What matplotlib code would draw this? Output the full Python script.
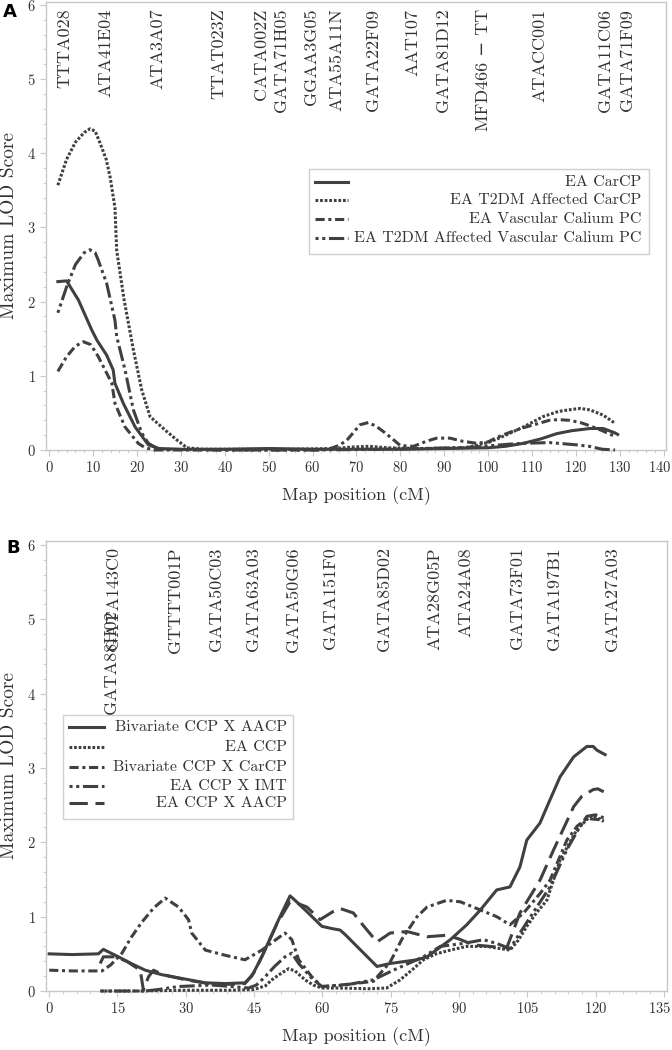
import matplotlib
matplotlib.use("Agg")
import matplotlib.pyplot as plt
from matplotlib.lines import Line2D
from matplotlib.patches import Rectangle
from matplotlib.ticker import MultipleLocator
from matplotlib.transforms import ScaledTranslation

plt.rcParams['font.family'] = ['cmr10', 'DejaVu Serif']
plt.rcParams['axes.formatter.use_mathtext'] = True
plt.rcParams['mathtext.fontset'] = 'cm'

# ---------------- panel A data ----------------
a_markers = ["TTTA028", "ATA41E04", "ATA3A07", "TTAT023Z", "CATA002Z", "GATA71H05",
             "GGAA3G05", "ATA55A11N", "GATA22F09", "AAT107", "GATA81D12",
             "MFD466 \u2212 TT", "ATACC001", "GATA11C06", "GATA71F09"]
a_marker_pos = [3.6, 12.8, 24.8, 38.7, 48.3, 52.8, 59.7, 65.6, 73.8, 82.9, 89.7,
                98.9, 111.8, 126.7, 131.7]

a_carcp_x = [2, 4, 6.7, 9.7, 10.9, 13.1, 14.6, 15.0, 16.9, 19.6, 22.6, 25, 30, 40, 50,
             60, 70, 80, 90, 100, 104, 108, 112, 115.6, 119, 123.2, 126.2, 128.9, 129.5]
a_carcp_y = [2.27, 2.28, 2.02, 1.62, 1.48, 1.28, 1.08, 0.90, 0.63, 0.31, 0.07, 0.02, 0.01,
             0.01, 0.02, 0.01, 0.01, 0.01, 0.02, 0.03, 0.05, 0.09, 0.15, 0.22, 0.26, 0.29,
             0.29, 0.23, 0.21]

a_t2dm_x = [2, 4, 6, 8, 9.3, 10.5, 11.6, 13, 13.9, 15.0, 15.4, 17.1, 19.2, 21.1, 23.0,
            26.8, 29, 31.4, 35, 45, 55, 65, 69, 73, 77, 85, 95, 100.5, 104, 108, 112.5,
            116, 119.4, 121, 123.2, 126.2, 128.9]
a_t2dm_y = [3.57, 3.92, 4.15, 4.28, 4.33, 4.30, 4.14, 3.92, 3.68, 3.27, 2.69, 2.02, 1.35,
            0.81, 0.45, 0.25, 0.14, 0.03, 0.01, 0.01, 0.01, 0.02, 0.04, 0.05, 0.03, 0.02,
            0.03, 0.11, 0.20, 0.31, 0.45, 0.52, 0.55, 0.56, 0.54, 0.47, 0.36]

a_vasc_x = [2, 4, 6, 7.8, 9.5, 11.2, 13, 14.3, 15.0, 17.3, 20.3, 21.9, 24, 35, 50, 62, 64,
            66, 67.8, 70.8, 72.7, 74.5, 76.1, 78, 80, 83, 86, 88.3, 91.3, 94, 97.4, 100,
            102, 105, 108, 111, 113.9, 116, 118.5, 121, 123, 126, 129]
a_vasc_y = [1.06, 1.26, 1.40, 1.46, 1.42, 1.26, 1.05, 0.90, 0.63, 0.31, 0.09, 0.03, 0.0,
            0.0, 0.0, 0.0, 0.02, 0.06, 0.13, 0.34, 0.37, 0.32, 0.25, 0.16, 0.06, 0.05,
            0.12, 0.16, 0.16, 0.12, 0.09, 0.11, 0.17, 0.24, 0.30, 0.35, 0.40, 0.41, 0.40,
            0.37, 0.33, 0.26, 0.18]

a_t2dm_vasc_x = [2, 4, 6, 8, 9.3, 10.5, 11.2, 13.1, 15.0, 15.4, 17.3, 19.2, 21.1, 22.6,
                 25, 40, 60, 75, 85, 92, 97, 101, 105, 108, 114, 120, 123, 126, 128.9]
a_t2dm_vasc_y = [1.85, 2.20, 2.50, 2.66, 2.70, 2.66, 2.56, 2.25, 1.75, 1.53, 1.08, 0.54,
                 0.23, 0.09, 0.01, 0.0, 0.0, 0.01, 0.02, 0.03, 0.04, 0.06, 0.08, 0.09,
                 0.10, 0.07, 0.05, 0.01, 0.0]

a_labels = ["EA CarCP", "EA T2DM Affected CarCP", "EA Vascular Calium PC",
            "EA T2DM Affected Vascular Calium PC"]

# ---------------- panel B data ----------------
b_markers = ["GATA88H02", "GATA143C0", "GTTTT001P", "GATA50C03", "GATA63A03",
             "GATA50G06", "GATA151F0", "GATA85D02", "ATA28G05P", "ATA24A08",
             "GATA73F01", "GATA197B1", "GATA27A03"]
b_marker_pos = [13.6, 14.1, 27.7, 36.8, 44.9, 53.7, 61.7, 73.7, 84.6, 91.6, 102.9,
                111.0, 123.8]

b_biv_aacp_x = [0, 5, 10.8, 11.9, 15.2, 18, 21.1, 24.7, 29.9, 34.3, 38.7, 43, 44.5, 46.7,
                50.4, 52.9, 54, 56.9, 59.9, 62.1, 63.9, 65, 67.6, 72, 74.9, 80.8, 83, 88.1,
                91.7, 94.7, 98.3, 101.2, 103.4, 104.9, 107.8, 109.7, 112.2, 115.2, 118.1,
                119.5, 120.3, 122.1]
b_biv_aacp_y = [0.50, 0.49, 0.50, 0.56, 0.46, 0.37, 0.28, 0.22, 0.16, 0.11, 0.10, 0.11,
                0.20, 0.46, 0.96, 1.28, 1.22, 1.05, 0.87, 0.84, 0.82, 0.76, 0.60, 0.33,
                0.37, 0.42, 0.46, 0.69, 0.89, 1.09, 1.36, 1.40, 1.67, 2.03, 2.26, 2.53,
                2.88, 3.15, 3.29, 3.29, 3.24, 3.18]

b_ccp_x = [11.2, 20, 30, 40, 45, 47.5, 48.9, 51, 52.6, 54, 56.2, 58, 59.9, 63.9, 70, 74.1,
           77.1, 80, 82.2, 85, 88.1, 91.7, 96.1, 101.2, 103, 104.9, 107, 109.3, 112.2,
           115.9, 118.8, 120.5, 121.8]
b_ccp_y = [0.0, 0.0, 0.01, 0.01, 0.02, 0.07, 0.15, 0.24, 0.30, 0.27, 0.15, 0.08, 0.04,
           0.04, 0.03, 0.04, 0.15, 0.30, 0.42, 0.50, 0.55, 0.60, 0.60, 0.55, 0.68, 0.87,
           1.05, 1.22, 1.76, 2.17, 2.35, 2.33, 2.28]

b_biv_carcp_x = [0, 5, 11.6, 13.5, 16, 18, 20.4, 23, 25.5, 28.4, 30.6, 31.3, 34.3, 38.7,
                 43, 46.7, 50, 51.8, 53.3, 54.8, 57.7, 59.9, 63.9, 67, 71.2, 74.9, 77.5,
                 80.8, 83, 87.3, 90.3, 94.7, 98.3, 101.2, 104.2, 107.8, 110, 113.7, 116,
                 118.1, 121.8]
b_biv_carcp_y = [0.28, 0.27, 0.27, 0.35, 0.51, 0.72, 0.93, 1.12, 1.25, 1.13, 0.96, 0.78,
                 0.55, 0.48, 0.42, 0.55, 0.70, 0.78, 0.69, 0.42, 0.19, 0.06, 0.08, 0.10,
                 0.13, 0.39, 0.70, 1.0, 1.13, 1.22, 1.20, 1.09, 1.0, 0.89, 1.05, 1.31,
                 1.49, 2.03, 2.22, 2.32, 2.30]

b_imt_x = [11.5, 16, 21, 24, 28.3, 32, 35.7, 40.1, 43.8, 45.5, 47.4, 49.5, 51.8, 53.3,
           54.8, 57.7, 59.9, 65, 71.2, 75.6, 82.2, 85.9, 91, 95.4, 98.3, 101.2, 103.4,
           107.1, 110, 113.7, 116, 118.1, 120, 121.8]
b_imt_y = [0.0, 0.0, 0.0, 0.02, 0.06, 0.07, 0.08, 0.06, 0.04, 0.08, 0.19, 0.33, 0.46,
           0.51, 0.37, 0.17, 0.06, 0.08, 0.15, 0.28, 0.46, 0.60, 0.64, 0.69, 0.64, 0.57,
           0.78, 1.13, 1.40, 1.90, 2.15, 2.35, 2.37, 2.33]

b_aacp_x = [11.2, 11.9, 14.5, 17, 20.0, 20.7, 21.8, 22.9, 25, 30, 35, 40, 43, 45, 47, 50,
            52.9, 54.5, 56.6, 59.5, 62.4, 63.9, 66.8, 69, 72, 74.9, 78.6, 83, 87.3, 90,
            93.2, 100.5, 103.4, 107.8, 110.8, 115.2, 117, 119.5, 120.5, 121.8]
b_aacp_y = [0.37, 0.46, 0.46, 0.40, 0.28, 0.01, 0.19, 0.28, 0.22, 0.15, 0.10, 0.09, 0.10,
            0.25, 0.50, 0.90, 1.20, 1.18, 1.13, 0.96, 1.07, 1.11, 1.05, 0.88, 0.66, 0.78,
            0.80, 0.73, 0.75, 0.70, 0.62, 0.58, 1.05, 1.49, 1.90, 2.48, 2.62, 2.71, 2.72,
            2.68]

b_labels = ["Bivariate CCP X AACP", "EA CCP", "Bivariate CCP X CarCP", "EA CCP X IMT",
            "EA CCP X AACP"]

LINE = "#404040"
FRAME = "#c8c8c8"
TXT = "#333333"
LW = 2.2

SOLID = "-"
DOTTED = (0, (0.9, 0.6))
DASHDOT = (0, (3, 1.2, 1, 1.2))
DOTDOTDASH = (0, (1, 1.2, 1, 1.2, 5, 1.2))
LONGDASH = (0, (6, 2.5))


def style_axes(ax, xmax, xmaj, xmin, ytop):
    ax.set_xlim(-0.7, xmax)
    ax.set_ylim(0, ytop)
    ax.set_xticks(list(range(0, int(xmax) + 1, xmaj)))
    ax.xaxis.set_minor_locator(MultipleLocator(xmin))
    ax.yaxis.set_major_locator(MultipleLocator(1))
    ax.yaxis.set_minor_locator(MultipleLocator(0.2))
    for s in ax.spines.values():
        s.set_color(FRAME)
        s.set_linewidth(1.0)
    ax.tick_params(which="both", direction="out", color=FRAME, labelcolor=TXT,
                   labelsize=10.5)
    ax.tick_params(which="major", length=4)
    ax.tick_params(which="minor", length=2)
    ax.set_xlabel("Map position (cM)", fontsize=13, color=TXT, labelpad=8)
    ax.set_ylabel("Maximum LOD Score", fontsize=14, color=TXT, labelpad=6)
    # nudge the last x tick label so it stays inside the figure
    last = ax.xaxis.get_major_ticks()[-1].label1
    last.set_transform(last.get_transform() +
                       ScaledTranslation(-3 / 72, 0, ax.figure.dpi_scale_trans))


def draw_legend(ax, labels, styles, box, rows, sample_x, text_x):
    x0, y0, x1, y1 = box
    ax.add_patch(Rectangle((x0, y0), x1 - x0, y1 - y0, transform=ax.transAxes,
                           facecolor="white", edgecolor="#d0d0d0", lw=1.0, zorder=5))
    for lab, ls, ry in zip(labels, styles, rows):
        ax.add_line(Line2D(sample_x, [ry, ry], transform=ax.transAxes, color=LINE,
                           lw=LW, linestyle=ls, zorder=6))
        ax.text(text_x, ry, lab, transform=ax.transAxes, ha="right", va="center",
                fontsize=11.5, color=TXT, zorder=6)


fig = plt.figure(figsize=(6.72, 10.5), dpi=100)

# ---------------- panel A ----------------
axA = fig.add_axes([46 / 672, 1 - 450 / 1050, 620 / 672, 448 / 1050])
a_styles = [SOLID, DOTTED, DASHDOT, DOTDOTDASH]
for xs, ys, ls in zip([a_carcp_x, a_t2dm_x, a_vasc_x, a_t2dm_vasc_x],
                      [a_carcp_y, a_t2dm_y, a_vasc_y, a_t2dm_vasc_y], a_styles):
    axA.plot(xs, ys, color=LINE, lw=LW, linestyle=ls, clip_on=False, zorder=3)
style_axes(axA, 140.5, 10, 2, 6.04)
for name, pos in zip(a_markers, a_marker_pos):
    axA.text(pos, 5.95, name, rotation=90, ha="center", va="top", fontsize=13,
             color=TXT)
draw_legend(axA, a_labels, a_styles, (0.424, 0.4375, 0.973, 0.627),
            [0.598, 0.558, 0.516, 0.473], [0.434, 0.487], 0.960)

# ---------------- panel B ----------------
axB = fig.add_axes([46 / 672, 1 - 991 / 1050, 621 / 672, 450 / 1050])
b_styles = [SOLID, DOTTED, DASHDOT, DOTDOTDASH, LONGDASH]
for xs, ys, ls in zip([b_biv_aacp_x, b_ccp_x, b_biv_carcp_x, b_imt_x, b_aacp_x],
                      [b_biv_aacp_y, b_ccp_y, b_biv_carcp_y, b_imt_y, b_aacp_y], b_styles):
    axB.plot(xs, ys, color=LINE, lw=LW, linestyle=ls, clip_on=False, zorder=3)
style_axes(axB, 135.7, 15, 3, 6.054)
for name, pos in zip(b_markers, b_marker_pos):
    top = 5.12 if name == "GATA88H02" else 5.97
    axB.text(pos, top, name, rotation=90, ha="center", va="top", fontsize=13,
             color=TXT)
draw_legend(axB, b_labels, b_styles, (0.027, 0.382, 0.398, 0.613),
            [0.587, 0.542, 0.498, 0.456, 0.418], [0.037, 0.093], 0.388)

fig.text(0.004, 0.997, "A", family="DejaVu Sans", fontweight="bold", fontsize=13,
         va="top", ha="left")
fig.text(0.010, 0.487, "B", family="DejaVu Sans", fontweight="bold", fontsize=13,
         va="top", ha="left")

fig.savefig("out.png", dpi=100)
